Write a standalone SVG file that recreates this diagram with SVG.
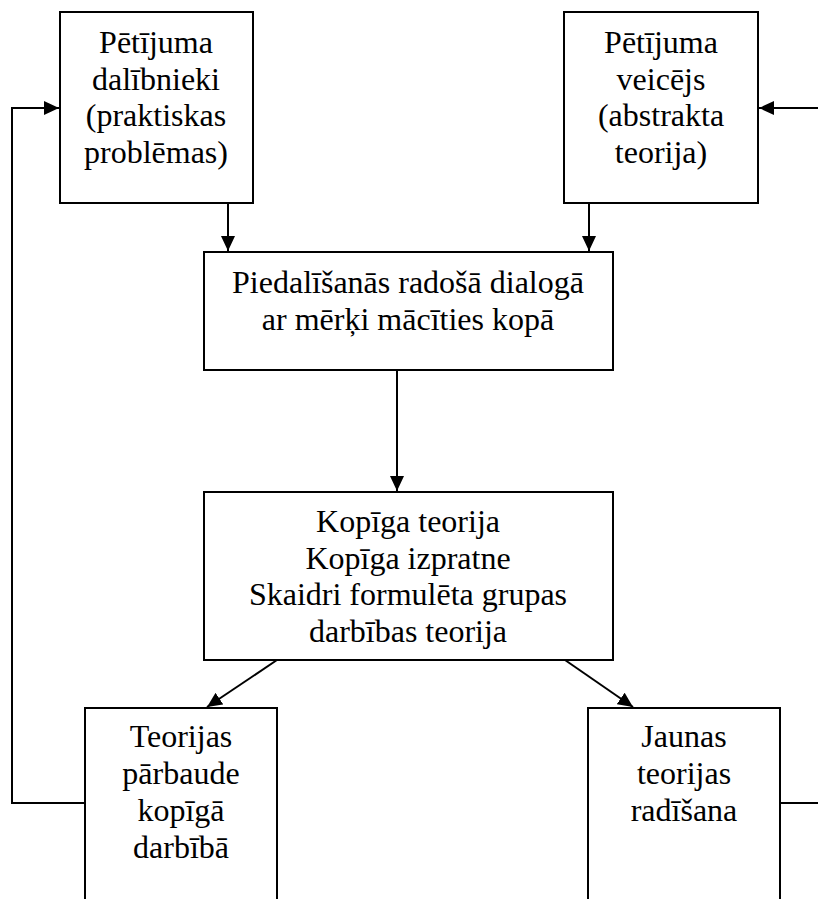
<svg xmlns="http://www.w3.org/2000/svg" width="818" height="899" viewBox="0 0 818 899">
<style>
.box{fill:#fff;stroke:#000;stroke-width:2}
.t{font-family:"Liberation Serif","Times New Roman",serif;font-size:32px;fill:#000;text-anchor:middle}
.c{fill:none;stroke:#000;stroke-width:2}
</style>
<defs>
<marker id="ah" markerUnits="userSpaceOnUse" markerWidth="16" markerHeight="14" refX="15" refY="7" orient="auto">
<path d="M0,0 L15,7 L0,14 Z" fill="#000"/>
</marker>
</defs>
<rect width="818" height="899" fill="#fff"/>
<g id="connectors">
<line class="c" x1="228" y1="204" x2="228" y2="251" marker-end="url(#ah)"/>
<line class="c" x1="589" y1="204" x2="589" y2="251" marker-end="url(#ah)"/>
<line class="c" x1="397" y1="370" x2="397" y2="491" marker-end="url(#ah)"/>
<line class="c" x1="277" y1="660" x2="207" y2="707" marker-end="url(#ah)"/>
<line class="c" x1="565" y1="660" x2="633" y2="707" marker-end="url(#ah)"/>
<polyline class="c" points="85,803 12,803 12,108 59,108" marker-end="url(#ah)"/>
<polyline class="c" points="780,803 820,803"/>
<polyline class="c" points="820,108 759,108" marker-end="url(#ah)"/>
</g>
<g id="n1">
<rect class="box" x="60" y="12" width="193" height="191"/>
<text class="t" x="156" y="53">Pētījuma</text>
<text class="t" x="156" y="89.5">dalībnieki</text>
<text class="t" x="156" y="126">(praktiskas</text>
<text class="t" x="156" y="162.5">problēmas)</text>
</g>
<g id="n2">
<rect class="box" x="564" y="12" width="194" height="191"/>
<text class="t" x="661" y="53">Pētījuma</text>
<text class="t" x="661" y="89.5">veicējs</text>
<text class="t" x="661" y="126">(abstrakta</text>
<text class="t" x="661" y="162.5">teorija)</text>
</g>
<g id="n3">
<rect class="box" x="204" y="252" width="409" height="118"/>
<text class="t" x="408" y="293">Piedalīšanās radošā dialogā</text>
<text class="t" x="408" y="330">ar mērķi mācīties kopā</text>
</g>
<g id="n4">
<rect class="box" x="204" y="492" width="409" height="168"/>
<text class="t" x="408" y="532">Kopīga teorija</text>
<text class="t" x="408" y="568.5">Kopīga izpratne</text>
<text class="t" x="408" y="605">Skaidri formulēta grupas</text>
<text class="t" x="408" y="641.5">darbības teorija</text>
</g>
<g id="n5">
<rect class="box" x="85" y="708" width="192" height="210"/>
<text class="t" x="181" y="747">Teorijas</text>
<text class="t" x="181" y="784">pārbaude</text>
<text class="t" x="181" y="821">kopīgā</text>
<text class="t" x="181" y="858">darbībā</text>
</g>
<g id="n6">
<rect class="box" x="588" y="708" width="192" height="210"/>
<text class="t" x="684" y="747">Jaunas</text>
<text class="t" x="684" y="784">teorijas</text>
<text class="t" x="684" y="821">radīšana</text>
</g>
</svg>
